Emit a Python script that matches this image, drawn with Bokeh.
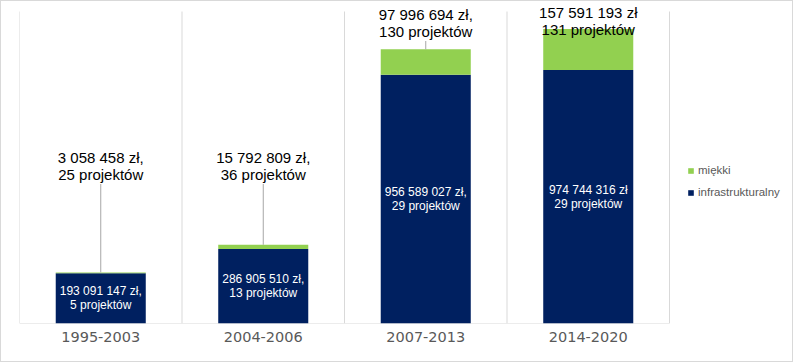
import numpy as np
from bokeh.plotting import figure
from bokeh.models import (Range1d, FixedTicker, ColumnDataSource, Legend,
                          LegendItem)
from bokeh.core.properties import value
from bokeh.embed import file_html
from bokeh.resources import INLINE

# ---- data ----
periods = ["1995-2003", "2004-2006", "2007-2013", "2014-2020"]
infra_pln = [193091147, 286905510, 956589027, 974744316]
infra_projects = [5, 13, 29, 29]
soft_pln = [3058458, 15792809, 97996694, 157591193]
soft_projects = [25, 36, 130, 131]
label_sep = [",", ",", ",", ""]
series_names = ["miękki", "infrastrukturalny"]
axis_max = 1.2e9

# ---- layout constants ----
W, H = 793, 362
FRAME_L, FRAME_R, FRAME_B = 18, 4, 40
PLOT_TOP_PX = 10            # where the value axis maximum sits (px from figure top)
frame_h = H - FRAME_B
frame_w = W - FRAME_L - FRAME_R
px2data = axis_max / (frame_h - PLOT_TOP_PX)
Y_END = frame_h * px2data
CAT_PX = 162.5
BAR_W = 0.554
top_label_px = [164.5, 164.5, 21.5, 19.5]   # label block centre, px from figure top
LEADER_GAP_PX = 18
TOP_LINE_PX = 8.5
IN_LINE_PX = 7

NAVY = "#002060"
GREEN = "#92D050"
GRID = "#d9d9d9"


def pln(v):
    return f"{v:,}".replace(",", " ") + " zł"


x = np.arange(1, len(periods) + 1)
infra = np.array(infra_pln, dtype=float)
soft = np.array(soft_pln, dtype=float)
stack_top = infra + soft
top_label_y = np.array([Y_END - p * px2data for p in top_label_px])

src = ColumnDataSource(dict(
    x=x, infra=infra, top=stack_top, zero=np.zeros(len(x)),
    in1_y=infra / 2 + IN_LINE_PX * px2data,
    in2_y=infra / 2 - IN_LINE_PX * px2data,
    in1=[f"{pln(v)}{s}" for v, s in zip(infra_pln, label_sep)],
    in2=[f"{n} projektów" for n in infra_projects],
    top1_y=top_label_y + TOP_LINE_PX * px2data,
    top2_y=top_label_y - TOP_LINE_PX * px2data,
    top1=[f"{pln(v)}{s}" for v, s in zip(soft_pln, label_sep)],
    top2=[f"{n} projektów" for n in soft_projects],
))

p = figure(width=W, height=H, output_backend="svg", toolbar_location=None,
           x_range=Range1d(0.5, 0.5 + frame_w / CAT_PX), y_range=Range1d(0, Y_END),
           min_border_left=FRAME_L, min_border_right=FRAME_R,
           min_border_top=0, min_border_bottom=FRAME_B,
           background_fill_color="white", border_fill_color="white",
           styles={"border": "1px solid #d9d9d9"})
p.outline_line_color = None
p.yaxis.visible = False
p.ygrid.visible = False
p.xgrid.visible = False

p.xaxis.ticker = FixedTicker(ticks=list(x))
p.xaxis.major_label_overrides = {int(i): t for i, t in zip(x, periods)}
p.xaxis.axis_line_color = None
p.xaxis.major_tick_line_color = None
p.xaxis.minor_tick_line_color = None
p.xaxis.major_tick_out = 0
p.xaxis.major_label_standoff = 8
p.xaxis.major_label_text_font = "DejaVu Sans"
p.xaxis.major_label_text_font_size = "14.5px"
p.xaxis.major_label_text_color = "#595959"

# category boundary grid lines and baseline
bounds = np.arange(0.5, len(periods) + 1, 1.0)
p.segment(x0=bounds, x1=bounds, y0=np.zeros(len(bounds)), y1=np.full(len(bounds), axis_max),
          line_color=GRID, line_width=1)
p.segment(x0=[bounds[0]], x1=[bounds[-1]], y0=[0], y1=[0], line_color=GRID, line_width=1)

r_infra = p.vbar(x="x", width=BAR_W, bottom="zero", top="infra", source=src,
                 fill_color=NAVY, line_color=None)
r_soft = p.vbar(x="x", width=BAR_W, bottom="infra", top="top", source=src,
                fill_color=GREEN, line_color=None)

# leader lines
gap = LEADER_GAP_PX * px2data
lx, ly0, ly1 = [], [], []
for xi, t, l in zip(x, stack_top, top_label_y):
    if l - gap > t:
        lx.append(xi); ly0.append(t); ly1.append(l - gap)
p.segment(x0=lx, x1=lx, y0=ly0, y1=ly1, line_color="#a6a6a6", line_width=1)

# inside labels
for col_y, col_t in (("in1_y", "in1"), ("in2_y", "in2")):
    p.text(x="x", y=col_y, text=col_t, source=src, text_align="center",
           text_baseline="middle", text_color="white",
           text_font=value("Liberation Sans"), text_font_size="12px")

# top labels
for col_y, col_t in (("top1_y", "top1"), ("top2_y", "top2")):
    p.text(x="x", y=col_y, text=col_t, source=src, text_align="center",
           text_baseline="middle", text_color="#000000",
           text_font=value("Liberation Sans"), text_font_size="15px")

legend = Legend(items=[LegendItem(label=series_names[0], renderers=[r_soft]),
                       LegendItem(label=series_names[1], renderers=[r_infra])],
                location=(668, 124), orientation="vertical",
                glyph_width=7, glyph_height=7, label_height=14, spacing=8,
                label_standoff=4, padding=0, margin=0,
                border_line_color=None, background_fill_alpha=0,
                label_text_font="Liberation Sans", label_text_font_size="11.5px",
                label_text_color="#595959")
p.add_layout(legend)

open("out.html", "w").write(file_html(p, INLINE))
